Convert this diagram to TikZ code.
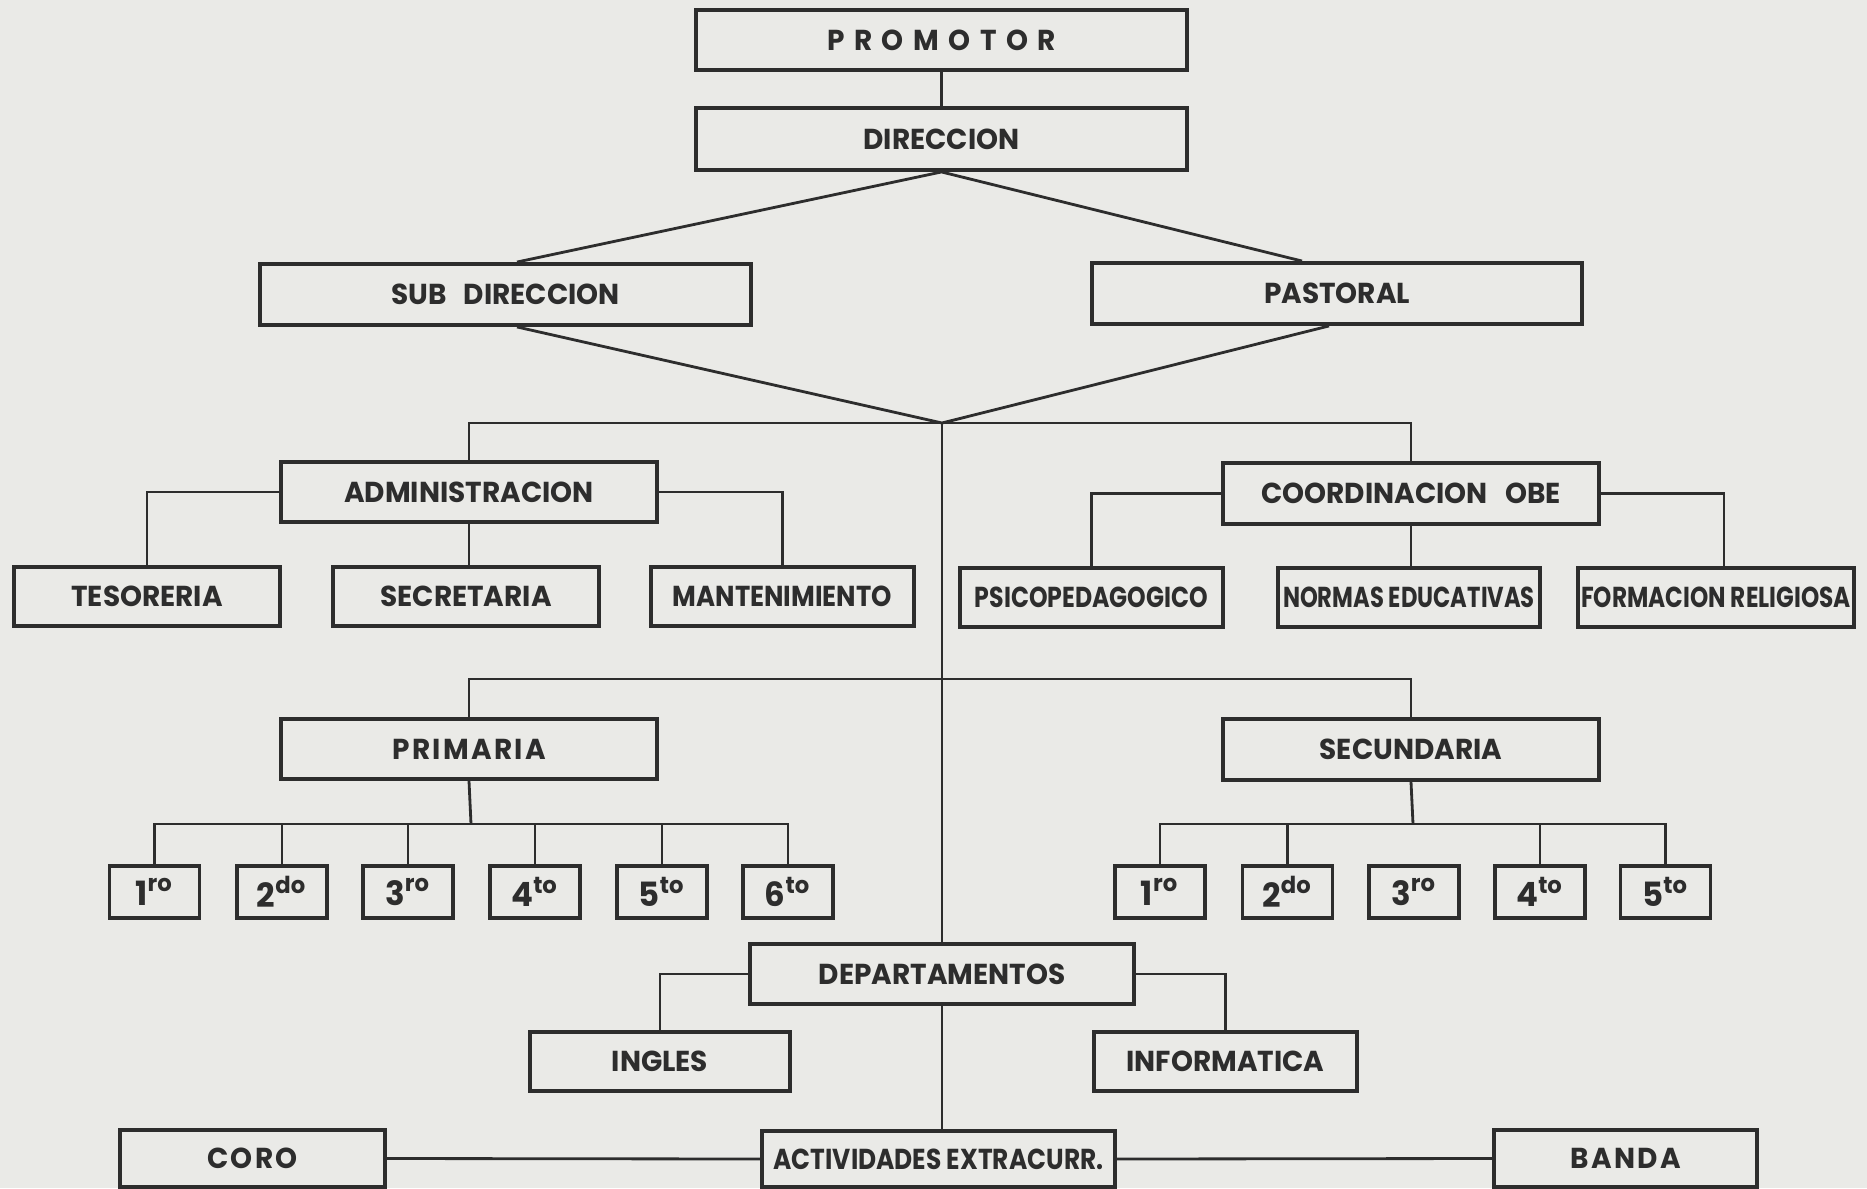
\documentclass[tikz,border=0pt]{standalone}
\usepackage{graphicx}
\usepackage{fontspec}
\setmainfont{Poppins}[FakeStretch=0.97]
\newfontfamily\spacedA{Poppins}[FakeStretch=0.97,LetterSpace=33]
\newfontfamily\spacedB{Poppins}[FakeStretch=0.97,LetterSpace=8]
\newfontfamily\spacedC{Poppins}[FakeStretch=0.97,LetterSpace=8]
\newcommand{\sxtext}[2]{\scalebox{#1}[1]{#2}}
\definecolor{paper}{RGB}{234,234,231}
\definecolor{ink}{RGB}{45,45,45}
\begin{document}
\begin{tikzpicture}[x=0.01cm,y=-0.01cm,
  box/.style={draw=ink, line width=1.1pt, fill=paper, text=ink,
    font=\fontsize{8.2}{10}\selectfont\bfseries, inner sep=0pt, anchor=center},
  grade/.style={box, minimum width=0.90cm, minimum height=0.52cm,
    font=\fontsize{9.5}{11}\selectfont\bfseries},
  conn/.style={draw=ink, line width=0.8pt}]
\useasboundingbox (0,0) rectangle (1867,1188);
\fill[paper] (0,0) rectangle (1867,1188);

% top levels
\node[box, minimum width=4.91cm, minimum height=0.60cm] (prom) at (941.5,40) {\spacedA\bfseries PROMOTOR};
\node[box, minimum width=4.91cm, minimum height=0.62cm] (dir) at (941.5,139) {DIRECCION};
\node[box, minimum width=4.91cm, minimum height=0.61cm] (sub) at (505.5,294.5) {SUB\hspace{0.6em}DIRECCION};
\node[box, minimum width=4.90cm, minimum height=0.61cm] (past) at (1337,293.5) {PASTORAL};

\node[box, minimum width=3.76cm, minimum height=0.60cm] (adm) at (469,492) {ADMINISTRACION};
\node[box, minimum width=3.76cm, minimum height=0.61cm] (coord) at (1411,493.5) {COORDINACION\hspace{0.6em}OBE};

\node[box, minimum width=2.66cm, minimum height=0.59cm] (tes) at (147,596.5) {TESORERIA};
\node[box, minimum width=2.66cm, minimum height=0.59cm] (sec) at (466,596.5) {SECRETARIA};
\node[box, minimum width=2.63cm, minimum height=0.59cm] (mant) at (782.5,596.5) {\sxtext{0.925}{MANTENIMIENTO}};
\node[box, minimum width=2.63cm, minimum height=0.59cm] (psico) at (1091.5,597.5) {\sxtext{0.845}{PSICOPEDAGOGICO}};
\node[box, minimum width=2.62cm, minimum height=0.59cm] (normas) at (1409,597.5) {\sxtext{0.81}{NORMAS EDUCATIVAS}};
\node[box, minimum width=2.76cm, minimum height=0.59cm] (form) at (1716,597.5) {\sxtext{0.83}{FORMACION RELIGIOSA}};

\node[box, minimum width=3.76cm, minimum height=0.60cm] (prim) at (469,749) {\spacedC\bfseries PRIMARIA};
\node[box, minimum width=3.76cm, minimum height=0.61cm] (secu) at (1411,749.5) {SECUNDARIA};

\node[grade] (p1) at (154.5,892) {1\textsuperscript{ro}};
\node[grade] (p2) at (282,892) {2\textsuperscript{do}};
\node[grade] (p3) at (408,892) {3\textsuperscript{ro}};
\node[grade] (p4) at (535,892) {4\textsuperscript{to}};
\node[grade] (p5) at (662,892) {5\textsuperscript{to}};
\node[grade] (p6) at (788,892) {6\textsuperscript{to}};

\node[grade] (s1) at (1160,892) {1\textsuperscript{ro}};
\node[grade] (s2) at (1287.5,892) {2\textsuperscript{do}};
\node[grade] (s3) at (1414,892) {3\textsuperscript{ro}};
\node[grade] (s4) at (1540,892) {4\textsuperscript{to}};
\node[grade] (s5) at (1665.5,892) {5\textsuperscript{to}};

\node[box, minimum width=3.83cm, minimum height=0.60cm] (dept) at (942,974) {DEPARTAMENTOS};
\node[box, minimum width=2.60cm, minimum height=0.59cm] (ing) at (660,1061.5) {INGLES};
\node[box, minimum width=2.63cm, minimum height=0.59cm] (info) at (1225.5,1061.5) {INFORMATICA};

\node[box, minimum width=3.53cm, minimum height=0.56cm] (act) at (938.5,1159) {\sxtext{0.89}{ACTIVIDADES EXTRACURR.}};
\node[box, minimum width=2.65cm, minimum height=0.57cm] (coro) at (252.5,1158.5) {\spacedB\bfseries CORO};
\node[box, minimum width=2.63cm, minimum height=0.57cm] (banda) at (1625.5,1158.5) {\spacedB\bfseries BANDA};

% junction points
\coordinate (hub) at (942,423);
\coordinate (j2) at (942,679);
\coordinate (pj) at (471,824);
\coordinate (sj) at (1413,824);

% connectors
\draw[conn] (prom) -- (dir);
\draw[conn] ([xshift=0.115cm]sub.north) -- (dir.south) -- ([xshift=-0.35cm]past.north);
\draw[conn] ([xshift=0.115cm]sub.south) -- (hub) -- ([xshift=-0.08cm]past.south);
\draw[conn] (adm.north) |- (hub) -| (coord.north);
\draw[conn] (hub) -- (dept.north);

\draw[conn] (adm.west) -| (tes.north);
\draw[conn] (adm.east) -| (mant.north);
\draw[conn] (adm.south) -- (adm.south |- sec.north);
\draw[conn] (coord.west) -| (psico.north);
\draw[conn] (coord.east) -| ([xshift=0.08cm]form.north);
\draw[conn] (coord.south) -- (coord.south |- normas.north);

\draw[conn] (prim.north) |- (j2) -| (secu.north);

\draw[conn] (prim.south) -- (pj);
\draw[conn] (p1.north) |- (pj) -| (p6.north);
\foreach \g in {p2,p3,p4,p5} \draw[conn] (\g.north) -- (\g.north |- pj);
\draw[conn] (secu.south) -- (sj);
\draw[conn] (s1.north) |- (sj) -| (s5.north);
\foreach \g in {s2,s4} \draw[conn] (\g.north) -- (\g.north |- sj);

\draw[conn] (dept.west) -| (ing.north);
\draw[conn] (dept.east) -| (info.north);
\draw[conn] (dept.south) -- (dept.south |- act.north);
\draw[conn] (coro.east) -- (act.west);
\draw[conn] (act.east) -- (banda.west);
\end{tikzpicture}
\end{document}
